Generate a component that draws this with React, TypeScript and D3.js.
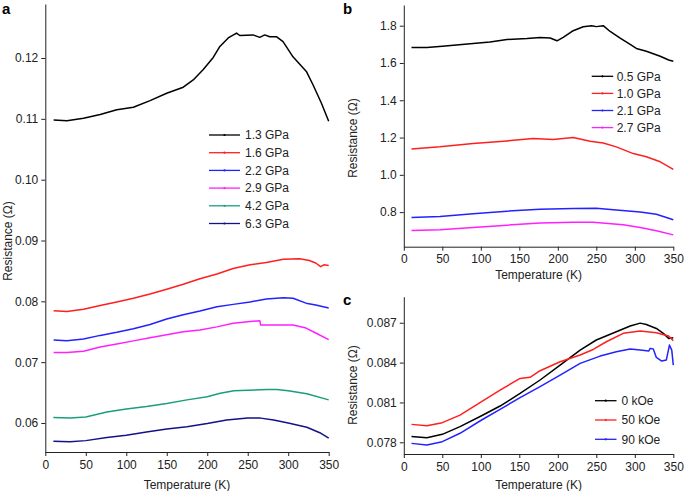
import * as d3 from "d3";
import { useEffect, useRef } from "react";

// panel a: resistance vs temperature at different pressures
const a13 = [[10.3,0.1098],[26.7,0.1097],[47.2,0.1101],[67.8,0.1107],[88.3,0.1115],[108.8,0.1119],[129.4,0.113],[149.9,0.1142],[170.4,0.1152],[182.7,0.1164],[195.1,0.1181],[207.4,0.1201],[215.6,0.1219],[225.9,0.1233],[236.2,0.1241],[240.2,0.1237],[256.6,0.1238],[264.9,0.1234],[271,0.1238],[277.2,0.1235],[285.4,0.1235],[293.6,0.1227],[305.9,0.1202],[322.4,0.1178],[330.6,0.1156],[340.9,0.1126],[350,0.1096]];
const a16 = [[10.3,0.07847],[26.7,0.07831],[47.2,0.0787],[67.8,0.0793],[88.3,0.0799],[108.8,0.0805],[129.4,0.0812],[149.9,0.082],[170.4,0.0828],[191,0.0837],[212,0.0845],[232,0.0854],[253,0.086],[273,0.0864],[294,0.0869],[314,0.087],[326,0.0867],[334,0.0863],[340,0.0857],[344,0.086],[350,0.0859]];
const a22 = [[10.3,0.07365],[26.7,0.0735],[47.2,0.0738],[67.8,0.0744],[88.3,0.0749],[108.8,0.0755],[129.4,0.0762],[149.9,0.0771],[170.4,0.0778],[191,0.0784],[212,0.0791],[232,0.0795],[253,0.0799],[273,0.0804],[294,0.0806],[306,0.0805],[322,0.0797],[334,0.0794],[350,0.0789]];
const a29 = [[10.3,0.0716],[26.7,0.0716],[47.2,0.0718],[67.8,0.0725],[88.3,0.073],[108.8,0.0735],[129.4,0.074],[149.9,0.0745],[170.4,0.075],[191,0.0753],[212,0.0758],[232,0.0764],[253,0.0767],[265,0.0768],[266,0.0761],[285,0.0761],[306,0.0761],[322,0.0756],[334,0.0748],[350,0.0737]];
const a42 = [[10,0.0609],[30.5,0.0608],[50,0.061],[76,0.0618],[100,0.0623],[125,0.0627],[150,0.0632],[175,0.0638],[200,0.0643],[216,0.0649],[233,0.0653],[250,0.0654],[274,0.0655],[286,0.0655],[300,0.0653],[323,0.0648],[350,0.0638]];
const a63 = [[10,0.057],[30.5,0.0569],[50,0.0571],[76,0.0576],[100,0.058],[125,0.0585],[150,0.059],[175,0.0594],[200,0.0599],[224,0.0605],[250,0.0608],[266,0.0608],[282,0.0605],[300,0.06],[323,0.0593],[339,0.0584],[350,0.0575]];

// panel b
const b05 = [[10,1.683],[30,1.683],[50,1.69],[90,1.705],[112,1.713],[134,1.726],[160,1.731],[177,1.737],[190,1.734],[199,1.719],[207,1.737],[220,1.773],[233,1.794],[244,1.8],[250,1.795],[259,1.8],[268,1.769],[281,1.733],[294,1.7],[302,1.678],[315,1.663],[333,1.636],[344,1.616],[350,1.609]];
const b10 = [[10,1.139],[47,1.15],[90,1.168],[134,1.182],[168,1.195],[194,1.189],[220,1.2],[242,1.18],[259,1.171],[276,1.15],[298,1.114],[315,1.097],[333,1.07],[350,1.029]];
const b21 = [[10,0.771],[47,0.776],[90,0.791],[134,0.805],[177,0.816],[220,0.819],[250,0.821],[276,0.812],[307,0.8],[328,0.789],[350,0.759]];
const b27 = [[10,0.701],[47,0.705],[90,0.717],[134,0.73],[177,0.741],[220,0.746],[246,0.745],[285,0.732],[307,0.717],[328,0.7],[350,0.678]];

// panel c: field dependence
const c0 = [[10,0.07843],[30,0.07835],[50,0.0786],[73,0.07918],[101,0.08],[125,0.08073],[151,0.08168],[177,0.08269],[203,0.08381],[229,0.08494],[250,0.0857],[276,0.08632],[294,0.08675],[307,0.08697],[315,0.08687],[328,0.08657],[337,0.0862],[344,0.08582],[350,0.08587]];
const c50 = [[10,0.07935],[30,0.07925],[50,0.07948],[73,0.08005],[101,0.08106],[125,0.08193],[151,0.08281],[164,0.08289],[177,0.08339],[203,0.08406],[229,0.08457],[246,0.08499],[263,0.08557],[285,0.0862],[307,0.08637],[328,0.08625],[344,0.086],[350,0.08565]];
const c90 = [[10,0.07792],[30,0.0778],[50,0.07805],[73,0.07868],[101,0.07968],[125,0.08048],[151,0.08136],[177,0.08219],[203,0.08306],[229,0.08394],[255,0.08449],[276,0.08482],[294,0.08502],[307,0.08494],[318,0.08487],[320,0.08507],[324,0.08502],[328,0.08439],[335,0.08412],[341,0.0842],[345,0.08532],[348,0.08494],[350,0.08381]];

const xTicks = [0, 50, 100, 150, 200, 250, 300, 350];
const aTicks = [0.06, 0.07, 0.08, 0.09, 0.1, 0.11, 0.12];
const bTicks = [0.8, 1.0, 1.2, 1.4, 1.6, 1.8];
const cTicks = [0.078, 0.081, 0.084, 0.087];

const aLabels = ["1.3 GPa", "1.6 GPa", "2.2 GPa", "2.9 GPa", "4.2 GPa", "6.3 GPa"];
const bLabels = ["0.5 GPa", "1.0 GPa", "2.1 GPa", "2.7 GPa"];
const cLabels = ["0 kOe", "50 kOe", "90 kOe"];

const aColors = ["#000000", "#ff1f1f", "#2222ff", "#ff1fff", "#1a9e7c", "#12128a"];
const bColors = ["#000000", "#ff1f1f", "#2222ff", "#ff1fff"];
const cColors = ["#000000", "#ff1f1f", "#2222ff"];

const FONT = "Liberation Sans, Arial, Helvetica, sans-serif";

type Panel = {
  letter: string;
  x0: number; x1: number; yTop: number; yBot: number;
  yDomain: [number, number];
  ticks: number[]; fmt: string;
  series: number[][][]; colors: string[]; labels: string[];
  legX: number; legY: number; legStep: number; legLen: number; legGap: number;
  ylabY: number; xlabY: number;
};

const panels: Panel[] = [
  { letter: "a", x0: 45.3, x1: 328.7, yTop: 4, yBot: 452, yDomain: [0.05523, 0.12888],
    ticks: aTicks, fmt: ".2f", series: [a13, a16, a22, a29, a42, a63], colors: aColors, labels: aLabels,
    legX: 209, legY: 135, legStep: 17.7, legLen: 31, legGap: 5, ylabY: 241, xlabY: 489 },
  { letter: "b", x0: 403.8, x1: 673.3, yTop: 5, yBot: 246.7, yDomain: [0.6145, 1.911],
    ticks: bTicks, fmt: ".1f", series: [b05, b10, b21, b27], colors: bColors, labels: bLabels,
    legX: 591.7, legY: 76.3, legStep: 17.1, legLen: 21.5, legGap: 3.5, ylabY: 138, xlabY: 279 },
  { letter: "c", x0: 403.8, x1: 673.3, yTop: 296.7, yBot: 454, yDomain: [0.07712, 0.08896],
    ticks: cTicks, fmt: ".3f", series: [c0, c50, c90], colors: cColors, labels: cLabels,
    legX: 595, legY: 400.7, legStep: 19.3, legLen: 21.5, legGap: 5, ylabY: 385, xlabY: 489 },
];

export default function App() {
  const ref = useRef<SVGSVGElement>(null);

  useEffect(() => {
    const svg = d3.select(ref.current);
    svg.selectAll("*").remove();

    panels.forEach((p) => {
      const x = d3.scaleLinear().domain([0, 350]).range([p.x0, p.x1]);
      const y = d3.scaleLinear().domain(p.yDomain).range([p.yBot, p.yTop]);
      const g = svg.append("g");

      const xa = g.append("g")
        .attr("transform", `translate(0,${p.yBot})`)
        .call(d3.axisBottom(x).tickValues(xTicks).tickSize(4).tickSizeOuter(0).tickPadding(4));
      const ya = g.append("g")
        .attr("transform", `translate(${p.x0},0)`)
        .call(d3.axisLeft(y).tickValues(p.ticks).tickFormat(d3.format(p.fmt)).tickSize(4).tickSizeOuter(0).tickPadding(3));
      [xa, ya].forEach((a) => {
        a.selectAll("text").attr("font-size", 12).attr("font-family", FONT).attr("fill", "#222");
        a.selectAll("path,line").attr("stroke", "#222");
      });

      const line = d3.line<number[]>().x((d) => x(d[0])).y((d) => y(d[1]));
      p.series.forEach((s, i) => {
        g.append("path").datum(s).attr("d", line).attr("fill", "none")
          .attr("stroke", p.colors[i]).attr("stroke-width", 1.5).attr("stroke-linejoin", "round");
      });

      // legend
      p.labels.forEach((lab, i) => {
        const ly = p.legY + i * p.legStep;
        g.append("line").attr("x1", p.legX).attr("x2", p.legX + p.legLen).attr("y1", ly).attr("y2", ly)
          .attr("stroke", p.colors[i]).attr("stroke-width", 1.3);
        g.append("circle").attr("cx", p.legX + p.legLen / 2).attr("cy", ly).attr("r", 1.1).attr("fill", p.colors[i]);
        g.append("text").attr("x", p.legX + p.legLen + p.legGap).attr("y", ly + 4.3).text(lab)
          .attr("font-size", 12).attr("font-family", FONT).attr("fill", "#222");
      });

      g.append("text").attr("transform", `translate(${p.letter === "a" ? 12 : 357},${p.ylabY}) rotate(-90)`)
        .attr("text-anchor", "middle").attr("font-size", 12).attr("font-family", FONT).attr("fill", "#222")
        .text("Resistance (Ω)");
      g.append("text").attr("x", (p.x0 + p.x1) / 2).attr("y", p.xlabY).attr("text-anchor", "middle")
        .attr("font-size", 12).attr("font-family", FONT).attr("fill", "#222").text("Temperature (K)");
      g.append("text").attr("x", p.letter === "a" ? 2 : 343).attr("y", p.letter === "c" ? 305 : 14)
        .attr("font-size", 15).attr("font-weight", "bold").attr("font-family", FONT).text(p.letter);
    });
  }, []);

  return (
    <svg ref={ref} width={685} height={491}
      style={{ position: "absolute", left: 0, top: 0, background: "#fff" }} />
  );
}
